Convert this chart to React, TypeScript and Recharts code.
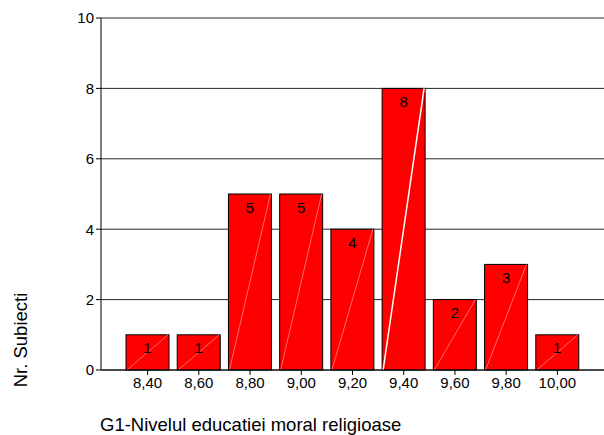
import { Bar, BarChart, CartesianGrid, LabelList, XAxis, YAxis } from "recharts";

document.body.style.margin = "0";

const categories = ["8,40", "8,60", "8,80", "9,00", "9,20", "9,40", "9,60", "9,80", "10,00"];
const counts = [1, 1, 5, 5, 4, 8, 2, 3, 1];
const yTicks = [0, 2, 4, 6, 8, 10];

const data = categories.map((c, i) => ({ score: c, count: counts[i] }));
const maxCount = Math.max(...counts);

const font = "Arial, 'Liberation Sans', sans-serif";

// red bar with the thin diagonal stroke SPSS leaves inside each bar
const HatchBar = (props: any) => {
  const { x, y, width, height, value } = props;
  const strong = value === maxCount;
  return (
    <g>
      <rect x={x} y={y} width={width} height={height} fill="#ff0000" stroke="#000" strokeWidth={1} />
      <line
        x1={x + 1}
        y1={y + height}
        x2={x + width - 1}
        y2={y}
        stroke={strong ? "#ffffff" : "#ff9a9a"}
        strokeWidth={strong ? 1.5 : 0.7}
      />
    </g>
  );
};

const App = () => {
  return (
    <div style={{ width: 604, height: 435, fontFamily: font }}>
      <BarChart
        width={604}
        height={435}
        data={data}
        margin={{ top: 18, right: 0, left: 0, bottom: 0 }}
        barCategoryGap={4}
      >
        <CartesianGrid vertical={false} stroke="#000" strokeOpacity={0.85} />
        <XAxis
          dataKey="score"
          height={65}
          padding={{ left: 21, right: 21 }}
          axisLine={{ stroke: "#000" }}
          tickLine={{ stroke: "#000" }}
          tickSize={5}
          tick={{ fill: "#000", fontSize: 15, fontFamily: font }}
          interval={0}
          label={{
            content: ({ viewBox }: any) => (
              <text
                x={viewBox.x - 1}
                y={viewBox.y + 61}
                fontSize={18.5}
                fontFamily={font}
                fill="#000"
              >
                G1-Nivelul educatiei moral religioase
              </text>
            ),
          }}
        />
        <YAxis
          width={101}
          domain={[0, 10]}
          ticks={yTicks}
          axisLine={{ stroke: "#000" }}
          tickLine={{ stroke: "#000" }}
          tickSize={5}
          tick={{ fill: "#000", fontSize: 15, fontFamily: font }}
          label={{
            content: () => (
              <text
                x={20}
                y={340}
                transform="rotate(-90 20 340)"
                textAnchor="middle"
                dominantBaseline="central"
                fontSize={18.5}
                fontFamily={font}
                fill="#000"
              >
                Nr. Subiecti
              </text>
            ),
          }}
        />
        <Bar dataKey="count" shape={<HatchBar />} isAnimationActive={false}>
          <LabelList
            dataKey="count"
            position="insideTop"
            offset={8}
            fill="#000"
            fontSize={15}
            fontFamily={font}
          />
        </Bar>
      </BarChart>
    </div>
  );
};

export default App;
